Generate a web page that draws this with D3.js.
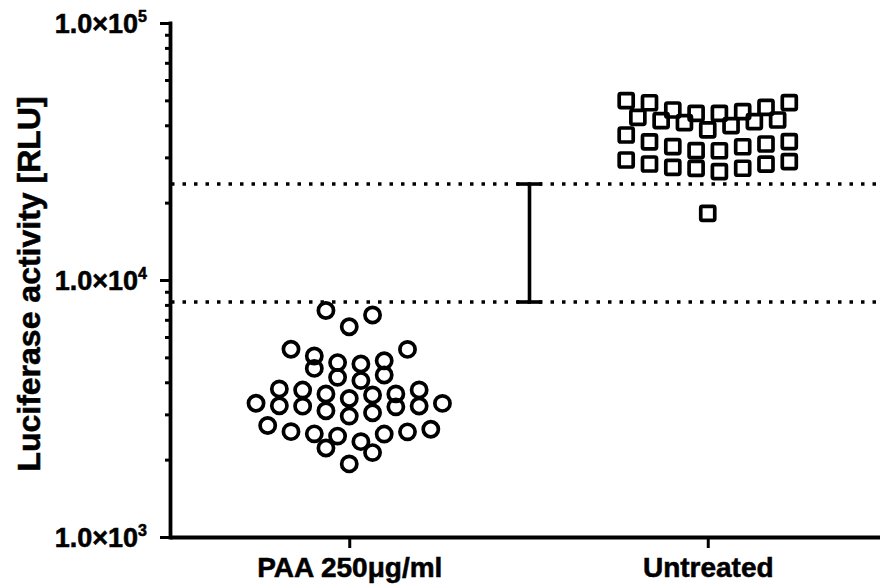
<!DOCTYPE html>
<html>
<head>
<meta charset="utf-8">
<script src="https://cdn.jsdelivr.net/npm/d3@7"></script>
<style>
  body { margin: 0; background: #fff; }
  svg { display: block; }
  text { font-family: "Liberation Sans", Arial, Helvetica, sans-serif; font-weight: bold; fill: #000;
         stroke: #000; stroke-width: 0.55px; paint-order: stroke; }
</style>
</head>
<body>
<svg id="chart" width="880" height="586"></svg>
<script>
// ---- data ----
const categories = ["PAA 250\u03bcg/ml", "Untreated"];

// Luciferase activity (RLU), PAA 250 µg/ml treated wells
const paaValues = [
  7610, 7310, 6580,
  5370, 5375, 5060, 4850, 4770, 4710,
  4530, 4270, 4180, 4060,
  3770, 3730, 3735, 3600, 3605, 3570, 3460,
  3310, 3315, 3230, 3235, 3240, 3210, 3100, 3045, 2955,
  2715, 2625, 2570, 2565, 2515, 2520, 2470, 2350,
  2220, 2130, 1925
];

// Luciferase activity (RLU), untreated wells
const untreatedValues = [
  49860, 48970, 48950, 46980, 45860, 45170, 44530, 44520,
  42960, 41940, 41680, 41310, 40940, 39860, 38350,
  36660, 34520, 34500, 33820, 33010, 33000, 31850, 31830,
  29310, 28860, 28270, 28250, 27450, 27210, 27190, 26390,
  18170
];

const yTickValues = [1e3, 1e4, 1e5];
const yTickMantissa = "1.0\u00d710";
const thresholdHigh = 23630;
const thresholdLow = 8210;
const yTitle = "Luciferase activity [RLU]";

// ---- layout ----
const W = 880, H = 586;
const plot = { left: 170, right: 887, top: 23, bottom: 537 };
const svg = d3.select("#chart");

const y = d3.scaleLog().domain([1e3, 1e5]).range([plot.bottom, plot.top]);
const x = d3.scalePoint().domain(categories).range([plot.left, plot.right]).padding(0.5);

// Column scatter layout: points are grouped into horizontal rows by their
// pixel height, and every row is spread symmetrically about the column centre
// (lowest value in the middle, alternating right/left outwards).
function columnScatter(values, cx, slot, rowHeight) {
  const pts = values.map(v => ({ v, y: y(v) })).sort((a, b) => b.y - a.y);
  const rows = [];
  for (const p of pts) {
    const row = rows[rows.length - 1];
    if (row && row[0].y - p.y < rowHeight) row.push(p);
    else rows.push([p]);
  }
  for (const row of rows) {
    const n = row.length;
    row.forEach((p, i) => {
      let k;
      if (n % 2) {
        const j = Math.ceil(i / 2);
        k = i === 0 ? 0 : (i % 2 ? 2 * j : -2 * j);
      } else {
        const j = Math.floor(i / 2);
        k = (i % 2 ? -1 : 1) * (2 * j + 1);
      }
      p.x = cx + k * slot;
    });
  }
  return pts;
}

const SLOT = 11.65, ROW_H = 16.5;
const paaPts = columnScatter(paaValues, x(categories[0]), SLOT, ROW_H);
const untreatedPts = columnScatter(untreatedValues, x(categories[1]), SLOT, ROW_H);

// ---- threshold lines (dotted) ----
svg.append("g")
  .selectAll("line")
  .data([thresholdHigh, thresholdLow])
  .join("line")
  .attr("x1", plot.left + 1).attr("x2", W)
  .attr("y1", d => y(d)).attr("y2", d => y(d))
  .attr("stroke", "#000")
  .attr("stroke-width", 3.5)
  .attr("stroke-dasharray", "3.5 8");

// ---- bar spanning the two thresholds ----
const midX = (x(categories[0]) + x(categories[1])) / 2 + 1;
const bar = svg.append("g").attr("stroke", "#000").attr("stroke-width", 3.6);
bar.append("line").attr("x1", midX).attr("x2", midX)
  .attr("y1", y(thresholdHigh)).attr("y2", y(thresholdLow));
bar.selectAll("line.cap").data([thresholdHigh, thresholdLow]).join("line")
  .attr("class", "cap")
  .attr("x1", midX - 12.5).attr("x2", midX + 12.5)
  .attr("y1", d => y(d)).attr("y2", d => y(d));

// ---- points ----
svg.append("g")
  .selectAll("circle")
  .data(paaPts)
  .join("circle")
  .attr("cx", d => d.x).attr("cy", d => d.y)
  .attr("r", 7.6)
  .attr("fill", "none").attr("stroke", "#000").attr("stroke-width", 3.7);

const SQ = 14;
svg.append("g")
  .selectAll("rect")
  .data(untreatedPts)
  .join("rect")
  .attr("x", d => d.x - SQ / 2).attr("y", d => d.y - SQ / 2)
  .attr("width", SQ).attr("height", SQ).attr("rx", 1.6)
  .attr("fill", "none").attr("stroke", "#000").attr("stroke-width", 3.7);

// ---- y axis ----
const minorTicks = y.ticks().filter(t => !yTickValues.includes(t));
const gy = svg.append("g").attr("transform", `translate(${plot.left},0)`);
gy.call(d3.axisLeft(y).tickValues(minorTicks).tickSize(5).tickSizeOuter(0).tickFormat(""));
const gyMajor = gy.append("g")
  .call(d3.axisLeft(y).tickValues(yTickValues).tickSize(10).tickSizeOuter(0).tickFormat(""));
gyMajor.select(".domain").remove();
gy.select(".domain").attr("stroke-width", 3.8).attr("stroke-linecap", "square");
gy.selectAll(".tick line").attr("stroke-width", 3);

const yLabels = gy.append("g")
  .selectAll("text")
  .data(yTickValues)
  .join("text")
  .attr("x", -23)
  .attr("y", d => y(d) + 9.8)
  .attr("text-anchor", "end")
  .style("font-size", "27px");
yLabels.append("tspan").text(yTickMantissa);
yLabels.append("tspan").attr("dy", -10.5).style("font-size", "16px")
  .text(d => Math.round(Math.log10(d)));

// ---- x axis ----
const gx = svg.append("g").attr("transform", `translate(0,${plot.bottom})`);
gx.call(d3.axisBottom(x).tickSize(11).tickSizeOuter(0));
gx.select(".domain").attr("stroke-width", 3.8);
gx.selectAll(".tick line").attr("stroke-width", 3);
gx.selectAll(".tick text")
  .attr("y", 39.5).attr("dy", null)
  .style("font-size", "28px")
  .attr("font-family", null);

// ---- y title ----
svg.append("text")
  .attr("transform", `translate(40,${(plot.top + plot.bottom) / 2 + 4}) rotate(-90)`)
  .attr("text-anchor", "middle")
  .style("font-size", "32px")
  .text(yTitle);
</script>
</body>
</html>
